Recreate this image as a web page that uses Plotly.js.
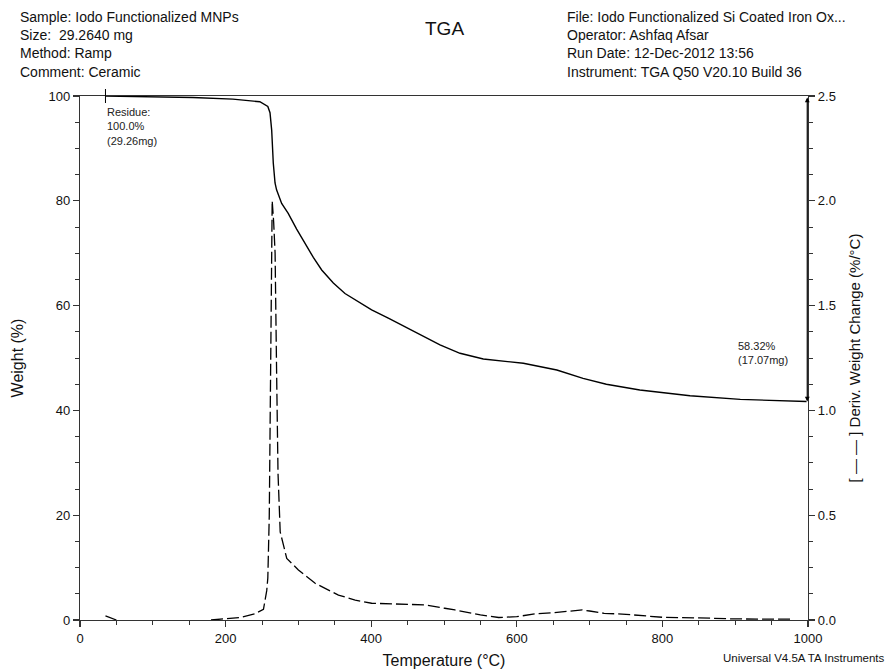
<!DOCTYPE html>
<html>
<head>
<meta charset="utf-8">
<script src="https://cdn.plot.ly/plotly-3.0.1.min.js"></script>
<style>html,body{margin:0;padding:0;background:#fff;}#chart{width:891px;height:671px;}</style>
</head>
<body>
<div id="chart"></div>
<script>
// Weight (%) vs temperature (°C)
const weightT = [35, 100, 155, 210, 247, 258, 261, 263.3, 265.5, 267.9, 270, 277, 286, 297.6, 309, 320.5, 332, 348, 364, 382, 400.6, 423.5, 446, 481, 494.5, 522, 554, 609, 655, 691, 723, 769, 838, 907, 952, 998];
const weightV = [100, 99.9, 99.7, 99.4, 98.9, 98.0, 96.8, 93.5, 87.2, 83.4, 82.1, 79.5, 77.6, 74.6, 71.9, 69.2, 66.8, 64.3, 62.3, 60.7, 59.2, 57.6, 56.0, 53.6, 52.5, 50.9, 49.8, 49.0, 47.7, 46.1, 45.0, 43.9, 42.8, 42.1, 41.85, 41.7];

// Derivative weight change (%/°C) vs temperature (°C)
const derivT = [35, 40, 50, null, 180, 200, 220, 240, 252, 256.5, 258, 260, 261, 262, 263, 264, 266, 268, 270, 272, 275, 284, 300, 323, 355, 378, 400.6, 446, 474, 501, 515, 550, 575, 600, 625, 650, 690, 700, 720, 750, 800, 850, 880, 900, 980];
const derivV = [0.02, 0.012, 0, null, 0, 0.005, 0.012, 0.029, 0.051, 0.14, 0.2, 0.5, 0.9, 1.4, 1.8, 2.0, 1.9, 1.75, 1.2, 0.7, 0.42, 0.294, 0.239, 0.175, 0.119, 0.095, 0.08, 0.076, 0.072, 0.056, 0.048, 0.024, 0.012, 0.016, 0.029, 0.035, 0.048, 0.043, 0.032, 0.027, 0.013, 0.01, 0.008, 0.005, 0.004];

const xTicks = [0, 200, 400, 600, 800, 1000];
const yTicks = [0, 20, 40, 60, 80, 100];
const y2Ticks = [0.0, 0.5, 1.0, 1.5, 2.0, 2.5];
const y2Labels = ['0.0', '0.5', '1.0', '1.5', '2.0', '2.5'];

const headerLeft = 'Sample: Iodo Functionalized MNPs<br>Size:  29.2640 mg<br>Method: Ramp<br>Comment: Ceramic';
const headerRight = 'File: Iodo Functionalized Si Coated Iron Ox...<br>Operator: Ashfaq Afsar<br>Run Date: 12-Dec-2012 13:56<br>Instrument: TGA Q50 V20.10 Build 36';

const FONT = 'Liberation Sans, Arial, sans-serif';
const L = 80, R = 808, T = 96, B = 620;
const px = x => (x - L) / (R - L);
const py = y => (B - y) / (B - T);

const traces = [
  {x: weightT, y: weightV, type: 'scatter', mode: 'lines', line: {color: '#000', width: 1.4}, hoverinfo: 'skip', yaxis: 'y'},
  {x: derivT, y: derivV, type: 'scatter', mode: 'lines', connectgaps: false, line: {color: '#000', width: 1.3, dash: '12px,4px'}, hoverinfo: 'skip', yaxis: 'y2'}
];

const axisCommon = {
  showgrid: false, zeroline: false, showline: true, linecolor: '#333', linewidth: 1.2,
  ticks: 'outside', ticklen: 6, tickcolor: '#333', tickwidth: 1.2,
  tickfont: {family: FONT, size: 13, color: '#111'}
};

const layout = {
  width: 891, height: 671,
  margin: {l: L, r: 891 - R, t: T, b: 671 - B, pad: 0},
  paper_bgcolor: '#fff', plot_bgcolor: '#fff',
  showlegend: false,
  font: {family: FONT, color: '#111'},
  xaxis: Object.assign({}, axisCommon, {
    range: [0, 1000], tickvals: xTicks, mirror: true,
    minor: {dtick: 50, ticks: 'outside', ticklen: 4, tickcolor: '#333', tickwidth: 1},
    title: {text: 'Temperature (°C)', font: {family: FONT, size: 16, color: '#111'}, standoff: 10}
  }),
  yaxis: Object.assign({}, axisCommon, {
    range: [0, 100], tickvals: yTicks,
    minor: {dtick: 5, ticks: 'outside', ticklen: 4, tickcolor: '#333', tickwidth: 1},
    title: {text: 'Weight (%)', font: {family: FONT, size: 16, color: '#111'}, standoff: 20}
  }),
  yaxis2: Object.assign({}, axisCommon, {
    range: [0, 2.5], tickvals: y2Ticks, ticktext: y2Labels, overlaying: 'y', side: 'right',
    minor: {dtick: 0.125, ticks: 'outside', ticklen: 4, tickcolor: '#333', tickwidth: 1},
    title: {text: '[ — — ] Deriv. Weight Change (%/°C)', font: {family: FONT, size: 15, color: '#111'}, standoff: 14}
  }),
  shapes: [
    {type: 'line', xref: 'x', yref: 'paper', x0: 35, x1: 35, y0: py(103), y1: py(89), line: {color: '#000', width: 1}}
  ],
  annotations: [
    {xref: 'paper', yref: 'paper', x: px(18), y: py(7), xanchor: 'left', yanchor: 'top', align: 'left', showarrow: false,
     text: headerLeft, font: {family: FONT, size: 14, color: '#111'}},
    {xref: 'paper', yref: 'paper', x: px(565), y: py(7), xanchor: 'left', yanchor: 'top', align: 'left', showarrow: false,
     text: headerRight, font: {family: FONT, size: 14, color: '#111'}},
    {xref: 'paper', yref: 'paper', x: px(444), y: py(29), xanchor: 'center', yanchor: 'middle', showarrow: false,
     text: 'TGA', font: {family: FONT, size: 19, color: '#111'}},
    {xref: 'x', yref: 'paper', x: 35, y: py(104), xanchor: 'left', yanchor: 'top', align: 'left', showarrow: false,
     text: 'Residue:<br>100.0%<br>(29.26mg)', font: {family: FONT, size: 11, color: '#222'}},
    {xref: 'paper', yref: 'paper', x: px(736), y: py(338), xanchor: 'left', yanchor: 'top', align: 'left', showarrow: false,
     text: '58.32%<br>(17.07mg)', font: {family: FONT, size: 11, color: '#222'}},
    {xref: 'x', yref: 'y', x: 999, y: 41.7, ax: 999, ay: 100, axref: 'x', ayref: 'y', text: '', showarrow: true,
     arrowhead: 2, arrowside: 'end+start', arrowsize: 0.8, arrowwidth: 1.2, arrowcolor: '#000'},
    {xref: 'paper', yref: 'paper', x: px(887), y: py(658), xanchor: 'right', yanchor: 'middle', showarrow: false,
     text: 'Universal V4.5A TA Instruments', font: {family: FONT, size: 11.5, color: '#111'}}
  ]
};

Plotly.newPlot('chart', traces, layout, {staticPlot: true, displayModeBar: false});
</script>
</body>
</html>
